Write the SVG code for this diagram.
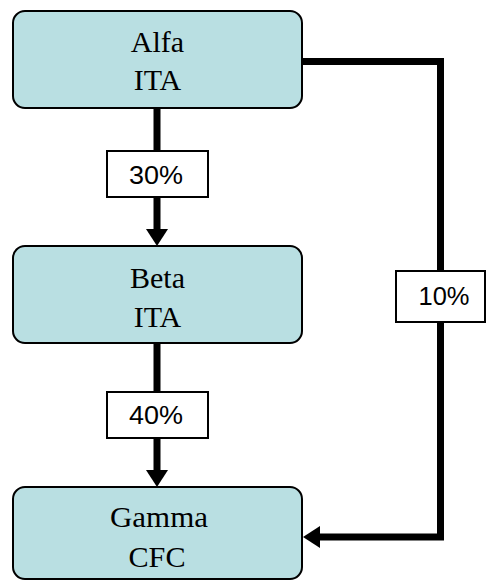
<svg xmlns="http://www.w3.org/2000/svg" width="486" height="581" viewBox="0 0 486 581">
<defs>
<style>
.node rect{fill:#b9dfe2;stroke:#000;stroke-width:2}
.serif{font-family:"Liberation Serif","Times New Roman",serif;font-size:30px;fill:#000;text-anchor:middle}
.conn{fill:none;stroke:#000;stroke-width:7;stroke-linejoin:miter}
.lbl rect{fill:#fff;stroke:#000;stroke-width:2}
.lbl text{font-family:"Liberation Sans",Arial,sans-serif;font-size:25px;fill:#000;text-anchor:middle}
</style>
<marker id="ah" markerUnits="userSpaceOnUse" markerWidth="17" markerHeight="23" refX="0" refY="11" orient="auto">
<path d="M0,0 L17,11 L0,22 Z" fill="#000"/>
</marker>
</defs>
<rect width="486" height="581" fill="#fff"/>
<g id="connectors">
<path class="conn" d="M157,108 V229" marker-end="url(#ah)"/>
<path class="conn" d="M157,343 V470" marker-end="url(#ah)"/>
<path class="conn" d="M302,61.5 H440.5 V537 H320" marker-end="url(#ah)"/>
<g class="lbl" id="label-30">
<rect x="107" y="151" width="101" height="46"/>
<text x="156" y="184" textLength="54" lengthAdjust="spacingAndGlyphs">30%</text>
</g>
<g class="lbl" id="label-40">
<rect x="107" y="392" width="101" height="46"/>
<text x="156" y="424" textLength="54" lengthAdjust="spacingAndGlyphs">40%</text>
</g>
<g class="lbl" id="label-10">
<rect x="396" y="271" width="89" height="51"/>
<text x="444" y="305" textLength="51" lengthAdjust="spacingAndGlyphs">10%</text>
</g>
</g>
<g id="alfa" class="node">
<rect x="13" y="11" width="289" height="97" rx="12"/>
<text class="serif" x="157.5" y="52">Alfa</text>
<text class="serif" x="157.5" y="90">ITA</text>
</g>
<g id="beta" class="node">
<rect x="13" y="246" width="289" height="97" rx="12"/>
<text class="serif" x="157.5" y="288">Beta</text>
<text class="serif" x="157.5" y="327">ITA</text>
</g>
<g id="gamma" class="node">
<rect x="13" y="487" width="289" height="92" rx="12"/>
<text class="serif" x="159" y="527" textLength="98" lengthAdjust="spacingAndGlyphs">Gamma</text>
<text class="serif" x="157" y="567" textLength="57" lengthAdjust="spacingAndGlyphs">CFC</text>
</g>
</svg>
